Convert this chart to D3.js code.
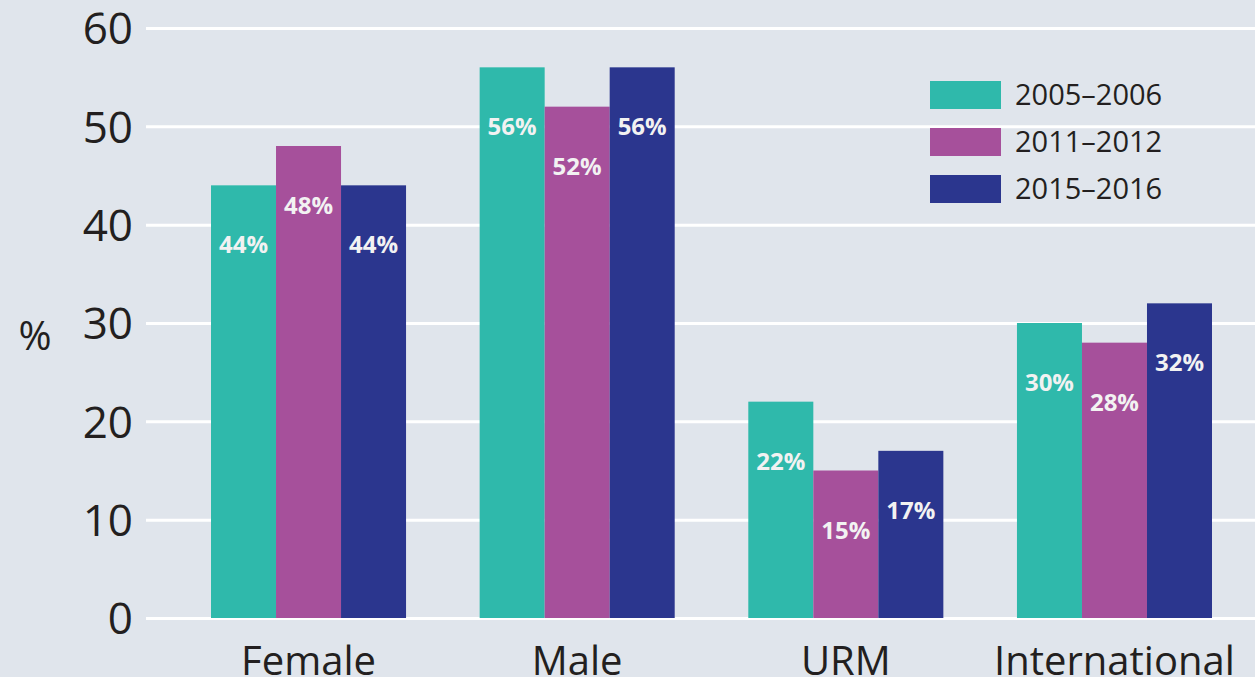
<!DOCTYPE html>
<html>
<head>
<meta charset="utf-8">
<script src="https://cdn.jsdelivr.net/npm/d3@7"></script>
<style>
  html, body { margin: 0; padding: 0; background: #e0e5ec; overflow: hidden; }
  svg { display: block; font-family: "Open Sans", sans-serif; }
</style>
</head>
<body>
<div class="barChart"></div>
<script>
const categories = ["Female", "Male", "URM", "International"];
const seriesNames = ["2005\u20132006", "2011\u20132012", "2015\u20132016"];
const values2005 = [44, 56, 22, 30];
const values2011 = [48, 52, 15, 28];
const values2015 = [44, 56, 17, 32];
const yTicks = [0, 10, 20, 30, 40, 50, 60];
const colors = ["#2fb9ab", "#a6509b", "#2b368e"];

const allSeries = [values2005, values2011, values2015];
const rows = categories.map((c, i) => ({
  cat: c,
  vals: seriesNames.map((s, k) => ({ series: s, k: k, value: allSeries[k][i] }))
}));

const width = 1255, height = 677;

const svg = d3.select(".barChart")
  .append("svg")
  .attr("width", width)
  .attr("height", height);

svg.append("rect")
  .attr("width", width).attr("height", height)
  .attr("fill", "#e0e5ec");

// scales
let y = d3.scaleLinear()
  .domain([0, 60])
  .range([618, 28]);

let x = d3.scaleBand()
  .domain(categories)
  .range([211, 1212])
  .paddingInner(0.274)
  .paddingOuter(0);

let xs = d3.scaleBand()
  .domain(seriesNames)
  .range([0, x.bandwidth()]);

// grid + y tick labels
let yAxis = svg.append("g")
  .attr("class", "axis y")
  .attr("transform", "translate(146,0)")
  .call(d3.axisLeft(y).tickValues(yTicks).tickSize(-(width - 146)).tickPadding(13));
yAxis.select(".domain").remove();
yAxis.selectAll("line")
  .attr("stroke", "#ffffff")
  .attr("stroke-width", 3);
yAxis.selectAll("text")
  .attr("fill", "#231f20")
  .attr("font-size", 44)
  .attr("font-family", "Open Sans, sans-serif")
  .attr("dy", "0.36em");

svg.append("text")
  .attr("x", 35)
  .attr("y", 336)
  .attr("text-anchor", "middle")
  .attr("dy", "0.36em")
  .attr("font-size", 40)
  .attr("fill", "#231f20")
  .text("%");

// bars
let groups = svg.selectAll(".grp")
  .data(rows)
  .enter()
  .append("g")
  .attr("class", "grp")
  .attr("transform", d => "translate(" + x(d.cat) + ",0)");

groups.selectAll("rect")
  .data(d => d.vals)
  .enter()
  .append("rect")
  .attr("x", d => xs(d.series))
  .attr("y", d => y(d.value))
  .attr("width", xs.bandwidth())
  .attr("height", d => y(0) - y(d.value))
  .attr("fill", d => colors[d.k]);

groups.selectAll("text")
  .data(d => d.vals)
  .enter()
  .append("text")
  .attr("x", d => xs(d.series) + xs.bandwidth() / 2)
  .attr("y", d => y(d.value) + 68)
  .attr("text-anchor", "middle")
  .attr("font-size", 24)
  .attr("font-weight", 700)
  .attr("fill", "#f2f2f2")
  .text(d => d.value + "%");

// category labels
let xAxis = svg.append("g")
  .attr("class", "axis x")
  .attr("transform", "translate(0,618)")
  .call(d3.axisBottom(x).tickSize(0).tickPadding(0));
xAxis.select(".domain").remove();
xAxis.selectAll("text")
  .attr("fill", "#231f20")
  .attr("font-size", 40)
  .attr("font-family", "Open Sans, sans-serif")
  .attr("dy", null)
  .attr("y", 57);

// legend
let legend = svg.append("g")
  .attr("transform", "translate(930,81)");
let li = legend.selectAll("g")
  .data(seriesNames)
  .enter()
  .append("g")
  .attr("transform", (d, i) => "translate(0," + i * 47 + ")");
li.append("rect")
  .attr("width", 71)
  .attr("height", 28)
  .attr("fill", (d, i) => colors[i]);
li.append("text")
  .attr("x", 85)
  .attr("y", 14)
  .attr("dy", "0.36em")
  .attr("font-size", 29)
  .attr("fill", "#231f20")
  .text(d => d);
</script>
</body>
</html>
